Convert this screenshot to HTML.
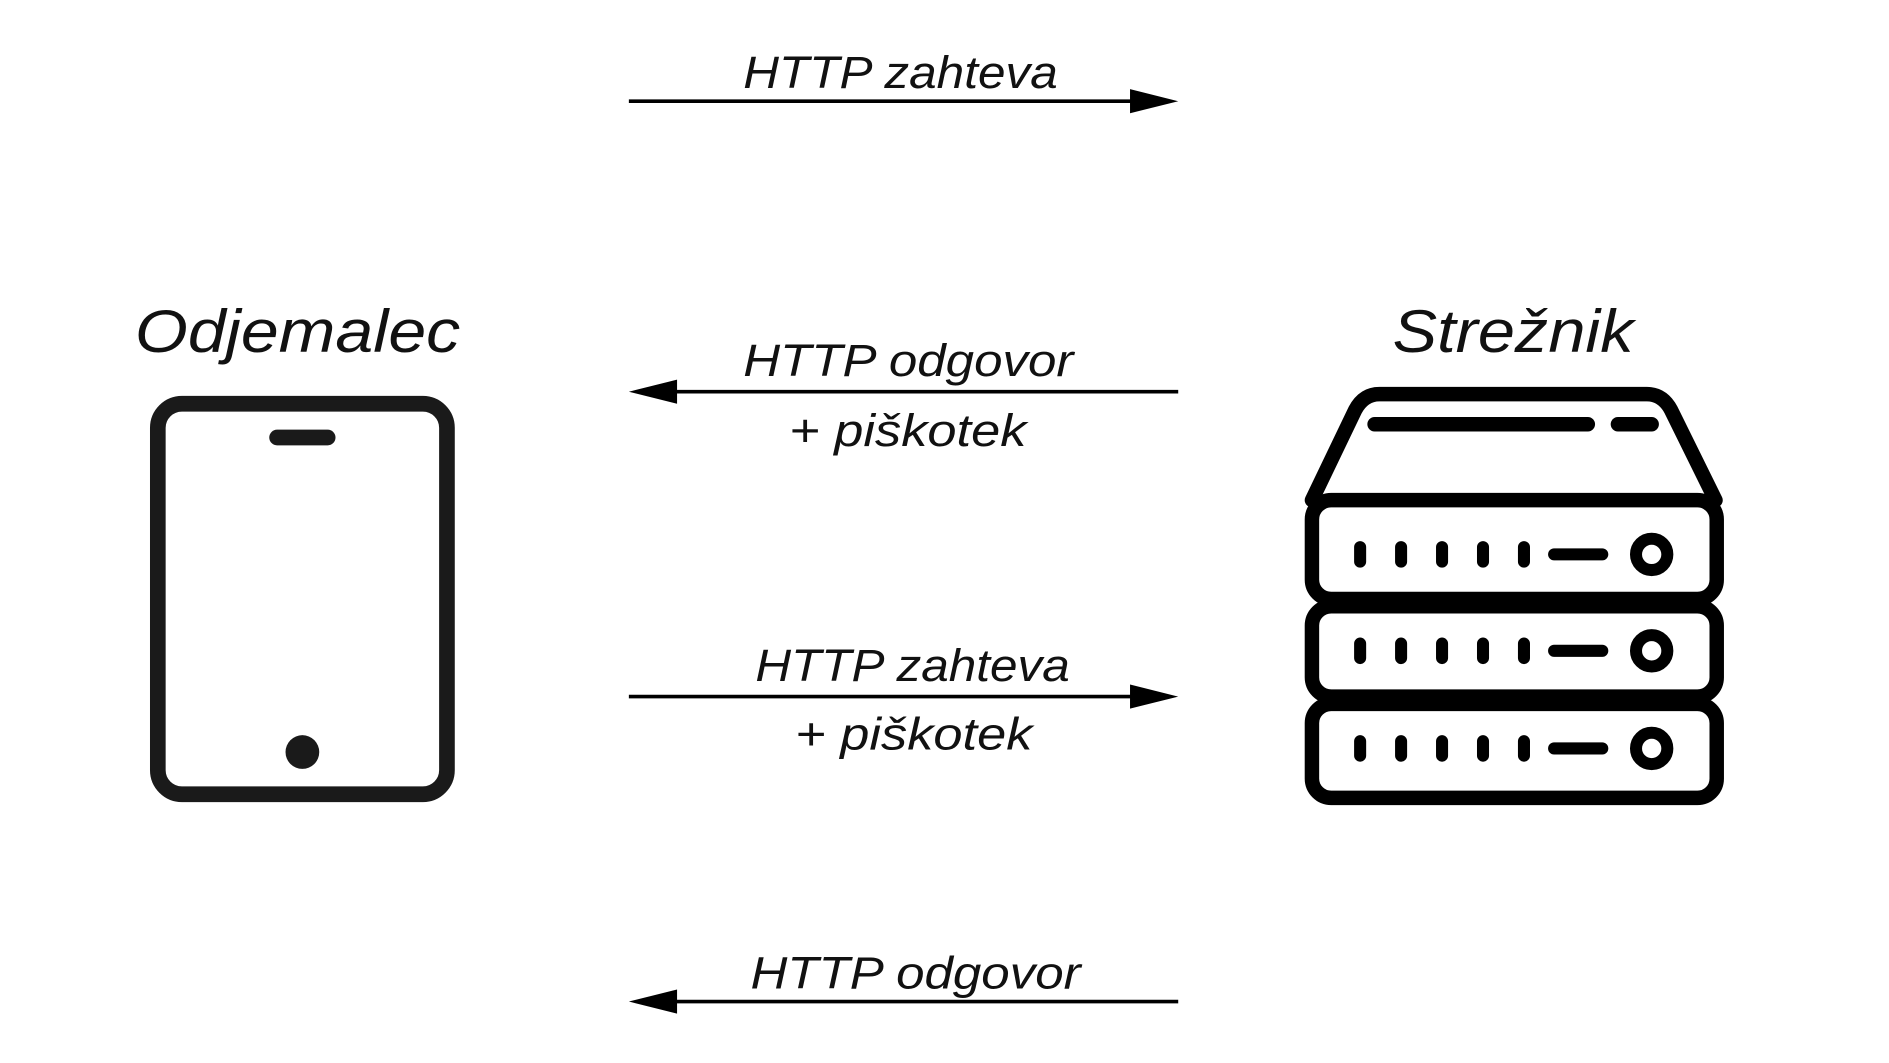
<!DOCTYPE html>
<html><head><meta charset="utf-8"><style>html,body{margin:0;padding:0;background:#fff}svg{display:block}</style></head>
<body>
<svg width="1889" height="1063" viewBox="0 0 1568 882" preserveAspectRatio="none" xmlns="http://www.w3.org/2000/svg">
<g font-family="Liberation Sans, sans-serif" font-style="italic" fill="#111">
<text x="617" y="73" font-size="38" textLength="261" lengthAdjust="spacingAndGlyphs">HTTP zahteva</text>
<text x="617" y="312" font-size="38" textLength="274" lengthAdjust="spacingAndGlyphs">HTTP odgovor</text>
<text x="655" y="370" font-size="38" textLength="197" lengthAdjust="spacingAndGlyphs">+ piškotek</text>
<text x="627" y="565" font-size="38" textLength="261" lengthAdjust="spacingAndGlyphs">HTTP zahteva</text>
<text x="660" y="622" font-size="38" textLength="197" lengthAdjust="spacingAndGlyphs">+ piškotek</text>
<text x="623" y="820" font-size="38" textLength="274" lengthAdjust="spacingAndGlyphs">HTTP odgovor</text>
<text x="112" y="292" font-size="50" textLength="270" lengthAdjust="spacingAndGlyphs">Odjemalec</text>
<text x="1156" y="292" font-size="50" textLength="200" lengthAdjust="spacingAndGlyphs">Strežnik</text>
</g>
<g stroke="#000" stroke-width="3">
<line x1="522" y1="84" x2="945" y2="84"/>
<line x1="555" y1="325" x2="978" y2="325"/>
<line x1="522" y1="578" x2="945" y2="578"/>
<line x1="555" y1="831" x2="978" y2="831"/>
</g>
<g fill="#000">
<polygon points="938,74 978,84 938,94"/>
<polygon points="562,315 522,325 562,335"/>
<polygon points="938,568 978,578 938,588"/>
<polygon points="562,821 522,831 562,841"/>
</g>
<g fill="none" stroke="#1a1a1a" stroke-width="13" stroke-linecap="round">
<rect x="131" y="335" width="240" height="324" rx="20"/>
<line x1="230" y1="363" x2="272" y2="363"/>
</g>
<circle cx="251" cy="624" r="14" fill="#1a1a1a"/>
<g fill="none" stroke="#000" stroke-width="12" stroke-linecap="round" stroke-linejoin="round">
<path d="M1089,415 L1125,340 Q1132,327 1145,327 L1367,327 Q1380,327 1387,340 L1424,415"/>
<rect x="1089" y="415" width="336" height="82" rx="16"/>
<rect x="1089" y="503" width="336" height="75" rx="16"/>
<rect x="1089" y="584" width="336" height="78" rx="16"/>
<line x1="1141" y1="352" x2="1318" y2="352"/>
<line x1="1343" y1="352" x2="1371" y2="352"/>
<g stroke-width="10">
<path d="M1129,454v12M1163,454v12M1197,454v12M1231,454v12M1265,454v12M1290,460h40"/>
<circle cx="1371" cy="460" r="13"/>
<path d="M1129,534v12M1163,534v12M1197,534v12M1231,534v12M1265,534v12M1290,540h40"/>
<circle cx="1371" cy="540" r="13"/>
<path d="M1129,615v12M1163,615v12M1197,615v12M1231,615v12M1265,615v12M1290,621h40"/>
<circle cx="1371" cy="621" r="13"/>
</g>
</g>
</svg>
</body></html>
